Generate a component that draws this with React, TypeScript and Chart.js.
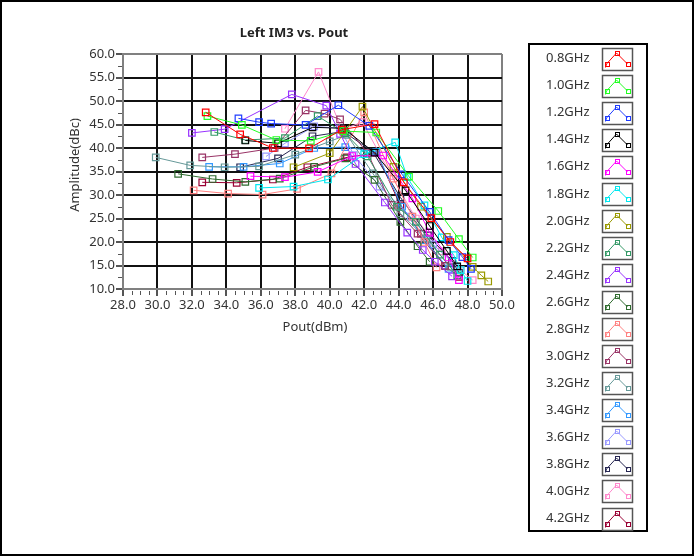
import React, { useEffect, useRef } from "react";
import { Chart, registerables } from "chart.js";

Chart.register(...registerables);

const TITLE = "Left IM3 vs. Pout";
const X_TITLE = "Pout(dBm)";
const Y_TITLE = "Amplitude(dBc)";

const seriesNames = [
  "0.8GHz", "1.0GHz", "1.2GHz", "1.4GHz", "1.6GHz", "1.8GHz", "2.0GHz", "2.2GHz", "2.4GHz",
  "2.6GHz", "2.8GHz", "3.0GHz", "3.2GHz", "3.4GHz", "3.6GHz", "3.8GHz", "4.0GHz", "4.2GHz",
];
const seriesColors = [
  "#ff0000", "#22ff22", "#1f3cff", "#000000", "#ff00ff", "#00e8f0", "#999900", "#339966", "#9933ff",
  "#2f6b2f", "#ff8080", "#993366", "#669999", "#3399ff", "#9999ff", "#262652", "#ff88cc", "#990033",
];

const x08 = [32.8, 34.8, 36.7, 38.8, 40.7, 42.6, 44.3, 45.9, 47.0, 48.0];
const y08 = [47.6, 42.9, 40.0, 39.9, 43.9, 45.1, 32.7, 25.1, 20.0, 16.5];
const x10 = [32.9, 34.9, 36.9, 38.9, 40.8, 42.7, 44.6, 46.3, 47.5, 48.3];
const y10 = [46.8, 44.9, 41.7, 41.5, 43.6, 43.3, 33.9, 26.6, 20.6, 16.7];
const x12 = [34.7, 35.9, 36.6, 38.6, 40.5, 42.3, 44.2, 45.8, 46.9, 47.7, 48.2];
const y12 = [46.3, 45.5, 45.2, 44.9, 49.1, 44.7, 34.4, 26.4, 20.4, 16.8, 14.3];
const x14 = [35.1, 37.0, 39.0, 40.8, 42.6, 44.4, 45.8, 46.8, 47.4];
const y14 = [41.6, 41.0, 44.4, 44.2, 39.0, 31.0, 23.4, 18.1, 14.8];
const x16 = [35.4, 37.4, 39.3, 41.3, 43.1, 44.8, 45.8, 46.9, 47.5];
const y16 = [34.0, 33.8, 34.9, 38.3, 38.4, 29.3, 22.0, 16.7, 11.9];
const x18 = [35.9, 37.9, 39.9, 42.0, 43.8, 44.5, 45.5, 46.5, 47.2, 47.6, 48.0];
const y18 = [31.5, 31.8, 33.3, 38.7, 41.2, 33.8, 27.8, 21.0, 17.2, 14.0, 11.7];
const x20 = [37.9, 40.0, 41.9, 43.7, 45.3, 46.8, 48.3, 48.8, 49.2];
const y20 = [35.9, 38.9, 48.8, 36.0, 27.5, 21.1, 14.7, 12.9, 11.6];
const x22 = [33.3, 35.1, 37.4, 39.3, 40.9, 42.2, 43.9, 45.0, 46.4, 47.4];
const y22 = [43.4, 41.7, 42.1, 46.8, 43.1, 38.2, 27.5, 24.3, 17.3, 12.9];
const x24 = [32.0, 33.9, 37.8, 39.8, 40.6, 41.5, 43.2, 44.5, 45.4, 46.1, 47.1];
const y24 = [43.2, 44.0, 51.4, 49.0, 43.0, 36.6, 28.4, 22.0, 18.3, 15.8, 12.7];
const x26 = [31.2, 33.2, 35.1, 37.1, 39.1, 40.9, 42.6, 44.1, 45.1, 45.8];
const y26 = [34.5, 33.4, 32.8, 33.5, 36.0, 37.8, 33.2, 24.3, 19.1, 15.8];
const x28 = [32.1, 34.1, 36.1, 38.1, 40.1, 42.0, 43.7, 44.8, 45.5, 46.2];
const y28 = [31.0, 30.3, 30.1, 31.3, 34.6, 47.6, 33.5, 25.4, 20.0, 14.6];
const x30 = [32.6, 34.5, 36.8, 38.6, 39.7, 40.6, 42.2, 43.6, 45.1, 46.7];
const y30 = [38.0, 38.7, 40.0, 48.0, 47.3, 46.1, 38.9, 27.9, 21.8, 14.9];
const x32 = [29.9, 31.9, 33.9, 35.9, 38.0, 40.0, 41.0, 42.5, 44.1, 45.6, 47.0];
const y32 = [38.0, 36.3, 35.9, 36.1, 38.6, 41.4, 42.8, 34.6, 26.1, 20.7, 14.7];
const x34 = [33.0, 35.0, 37.1, 39.1, 40.9, 42.7, 44.2, 45.5, 46.9];
const y34 = [36.0, 36.0, 36.7, 40.0, 40.2, 39.2, 27.5, 20.4, 14.3];
const x36 = [36.3, 37.4, 39.1, 40.6, 41.4, 42.9, 44.7, 46.0, 47.4];
const y36 = [38.2, 41.0, 44.6, 44.2, 38.5, 31.8, 25.4, 19.5, 14.7];
const x38 = [34.8, 37.0, 39.0, 40.8, 42.5, 44.1, 45.7, 47.1, 47.5];
const y38 = [35.9, 37.8, 42.5, 43.5, 39.2, 29.5, 21.4, 16.0, 13.5];
const x40 = [37.4, 39.35, 40.7, 41.9, 43.6, 45.0, 46.5, 47.6, 48.3];
const y40 = [44.1, 56.2, 43.9, 45.5, 34.0, 25.0, 18.0, 14.0, 11.9];
const x42 = [32.6, 34.6, 36.7, 38.7, 41.0, 42.7, 44.1, 45.3, 46.7, 47.5];
const y42 = [32.7, 32.6, 33.3, 35.9, 38.0, 39.0, 27.8, 21.8, 14.9, 12.6];

const seriesX = [x08, x10, x12, x14, x16, x18, x20, x22, x24, x26, x28, x30, x32, x34, x36, x38, x40, x42];
const seriesY = [y08, y10, y12, y14, y16, y18, y20, y22, y24, y26, y28, y30, y32, y34, y36, y38, y40, y42];

const X_MIN = 28, X_MAX = 50, X_STEP = 2, X_MINOR = 0.5;
const Y_MIN = 10, Y_MAX = 60, Y_STEP = 5, Y_MINOR = 2.5;

const FONT = "'Noto Sans', 'DejaVu Sans', sans-serif";

const decorPlugin = {
  id: "decor",
  beforeDraw(chart: any) {
    const ctx = chart.ctx;
    ctx.save();
    ctx.fillStyle = "#ffffff";
    ctx.fillRect(0, 0, chart.width, chart.height);
    ctx.restore();
  },
  afterDraw(chart: any) {
    const ctx = chart.ctx;
    const { left, bottom } = chart.chartArea;
    const xs = chart.scales.x;
    const ys = chart.scales.y;
    ctx.save();
    // minor ticks
    ctx.strokeStyle = "#555";
    ctx.lineWidth = 1;
    ctx.beginPath();
    for (let v = X_MIN; v <= X_MAX + 1e-9; v += X_MINOR) {
      if (Math.abs(v / X_STEP - Math.round(v / X_STEP)) < 1e-6) continue;
      const px = Math.round(xs.getPixelForValue(v)) + 0.5;
      ctx.moveTo(px, bottom + 2);
      ctx.lineTo(px, bottom + 6);
    }
    for (let v = Y_MIN; v <= Y_MAX + 1e-9; v += Y_MINOR) {
      if (Math.abs(v / Y_STEP - Math.round(v / Y_STEP)) < 1e-6) continue;
      const py = Math.round(ys.getPixelForValue(v)) + 0.5;
      ctx.moveTo(left - 5, py);
      ctx.lineTo(left - 1, py);
    }
    ctx.stroke();

    // titles
    ctx.fillStyle = "#222";
    ctx.textAlign = "center";
    ctx.textBaseline = "middle";
    ctx.font = `bold 13px ${FONT}`;
    ctx.fillText(TITLE, 294, 33);
    ctx.font = `13px ${FONT}`;
    ctx.fillStyle = "#333";
    ctx.fillText(X_TITLE, 315, 327);
    ctx.save();
    ctx.translate(75, 165);
    ctx.rotate(-Math.PI / 2);
    ctx.fillText(Y_TITLE, 0, 0);
    ctx.restore();

    // legend box
    ctx.strokeStyle = "#000";
    ctx.lineWidth = 2;
    ctx.strokeRect(529, 44, 118, 487);
    ctx.textAlign = "left";
    ctx.font = `13px ${FONT}`;
    for (let i = 0; i < seriesNames.length; i++) {
      const cy = 58.5 + i * 27.06;
      ctx.fillStyle = "#333";
      ctx.fillText(seriesNames[i], 546, cy);
      const bx = 602.5, by = Math.round(cy - 11) + 0.5;
      ctx.fillStyle = "#fff";
      ctx.fillRect(bx, by, 30, 22);
      ctx.strokeStyle = "#555";
      ctx.lineWidth = 1.5;
      ctx.strokeRect(bx, by, 30, 22);
      const col = seriesColors[i];
      ctx.strokeStyle = col;
      ctx.lineWidth = 1;
      const pts = [[bx + 4, by + 15.5], [bx + 14, by + 4.5], [bx + 25, by + 15.5]];
      ctx.beginPath();
      ctx.moveTo(bx + 3, by + 19);
      ctx.lineTo(pts[0][0], pts[0][1]);
      ctx.lineTo(pts[1][0], pts[1][1]);
      ctx.lineTo(pts[2][0], pts[2][1]);
      ctx.stroke();
      for (const p of pts) {
        ctx.strokeRect(Math.round(p[0] - 2) + 0.5, Math.round(p[1] - 2) + 0.5, 4, 4);
      }
    }

    // outer frame
    ctx.strokeStyle = "#000";
    ctx.lineWidth = 2;
    ctx.strokeRect(1, 1, chart.width - 2, chart.height - 2);
    ctx.restore();
  },
};

export default function App() {
  const ref = useRef<HTMLCanvasElement | null>(null);
  useEffect(() => {
    if (!ref.current) return;
    const datasets = seriesNames.map((name, i) => ({
      label: name,
      data: seriesX[i].map((x, j) => ({ x, y: seriesY[i][j] })),
      borderColor: seriesColors[i],
      backgroundColor: "rgba(0,0,0,0)",
      borderWidth: 1,
      pointStyle: "rect" as const,
      pointRadius: 4.6,
      pointBorderWidth: 1.2,
      pointBorderColor: seriesColors[i],
      pointBackgroundColor: "rgba(255,255,255,0)",
      showLine: true,
      tension: 0,
    }));
    const gridColor = (edgeMin: number, edgeMax: number) => (c: any) => {
      const v = c.tick ? c.tick.value : null;
      if (v === edgeMin || v === edgeMax) return "#808080";
      return "#111111";
    };
    const chart = new Chart(ref.current, {
      type: "scatter",
      data: { datasets },
      plugins: [decorPlugin],
      options: {
        responsive: false,
        animation: false,
        layout: { padding: { left: 0, top: 54, right: 192, bottom: 227 } },
        plugins: { legend: { display: false }, title: { display: false }, tooltip: { enabled: false } },
        scales: {
          x: {
            type: "linear",
            min: X_MIN,
            max: X_MAX,
            ticks: {
              stepSize: X_STEP,
              callback: (v: any) => Number(v).toFixed(1),
              font: { family: FONT, size: 13 },
              color: "#333",
              maxRotation: 0,
              padding: 1,
            },
            grid: { color: gridColor(X_MIN, X_MAX), lineWidth: 2, tickLength: 7, tickColor: "#555" },
            border: { color: "#808080", width: 2 },
            afterFit(s: any) { s.height = 40; },
          },
          y: {
            type: "linear",
            min: Y_MIN,
            max: Y_MAX,
            ticks: {
              stepSize: Y_STEP,
              callback: (v: any) => Number(v).toFixed(1),
              font: { family: FONT, size: 13 },
              color: "#333",
              padding: 1,
            },
            grid: { color: gridColor(Y_MIN, Y_MAX), lineWidth: 2, tickLength: 7, tickColor: "#555" },
            border: { color: "#808080", width: 2 },
            afterFit(s: any) { s.width = 123; },
          },
        },
      },
    });
    return () => chart.destroy();
  }, []);
  return (
    <div style={{ position: "fixed", left: 0, top: 0, width: 694, height: 556, background: "#fff" }}>
      <canvas ref={ref} width={694} height={556} style={{ display: "block", width: 694, height: 556 }} />
    </div>
  );
}
